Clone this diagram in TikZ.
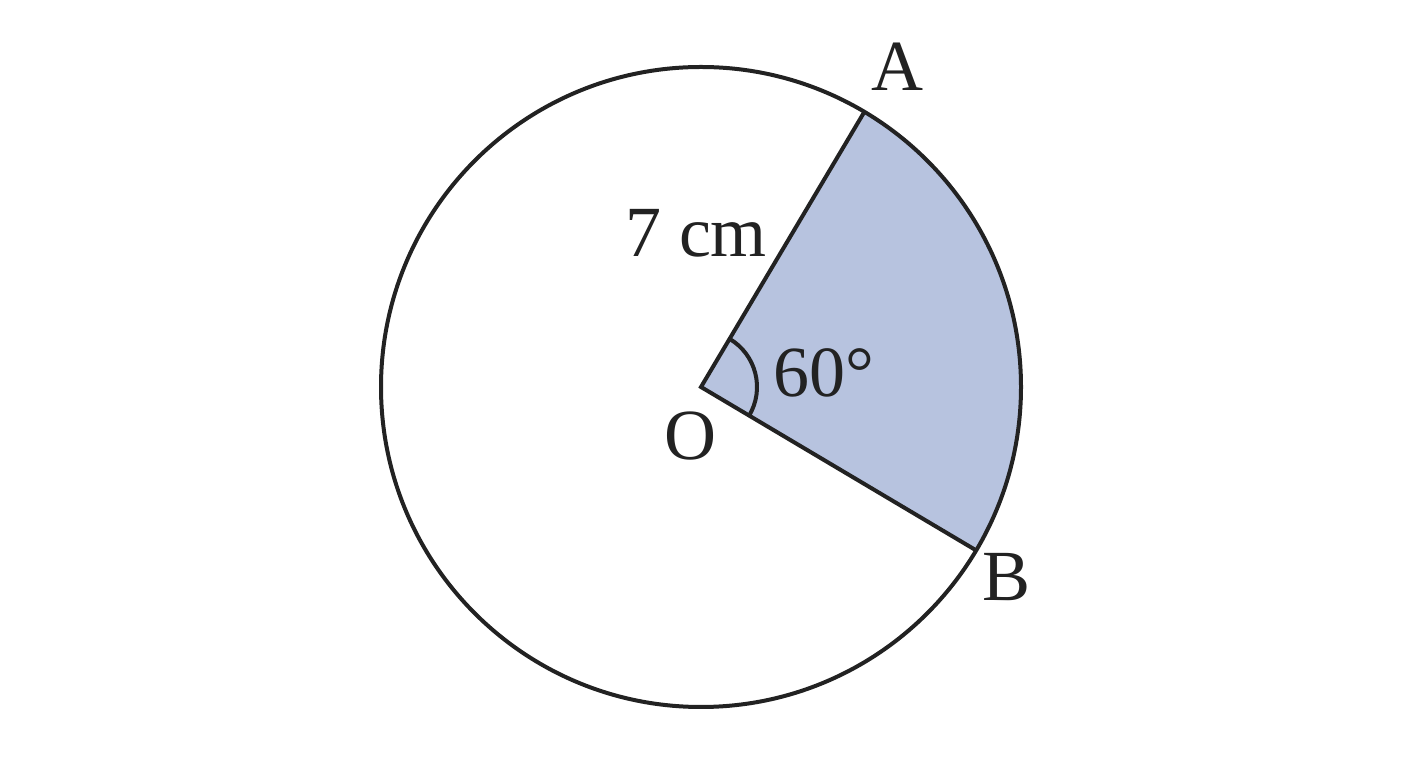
\documentclass[tikz,border=0pt]{standalone}
\usepackage{fontspec}
\usetikzlibrary{calc}
\setmainfont{Liberation Serif}
\definecolor{sector}{HTML}{B7C3DF}
\definecolor{ink}{HTML}{222222}
\begin{document}
\begin{tikzpicture}[x=1pt,y=1pt,
  outline/.style={draw=ink,line width=4pt},
  lbl/.style={text=ink,font=\fontsize{72}{84}\selectfont,anchor=base,inner sep=0pt}]
\useasboundingbox (0,0) rectangle (1408,768);
\coordinate (O) at (701,381);
\coordinate (A) at ($(O)+(59.3:320)$);
\coordinate (B) at ($(O)+(-30.7:320)$);
\fill[sector] (O) -- (B) arc[start angle=-30.7,end angle=59.3,radius=320] -- cycle;
\draw[outline] (O) circle[radius=320];
\draw[outline,line join=miter] (A) -- (O) -- (B);
\draw[outline] ($(O)+(-30.7:56)$) arc[start angle=-30.7,end angle=59.3,radius=56];
\node[lbl] (la) at (897,677) {A};
\node[lbl] (lb) at (1006,167) {B};
\node[lbl] (lo) at (690,308) {O};
\node[lbl] (lr) at (696,511) {7 cm};
\node[lbl] (lang) at (824,371) {60°};
\end{tikzpicture}
\end{document}
